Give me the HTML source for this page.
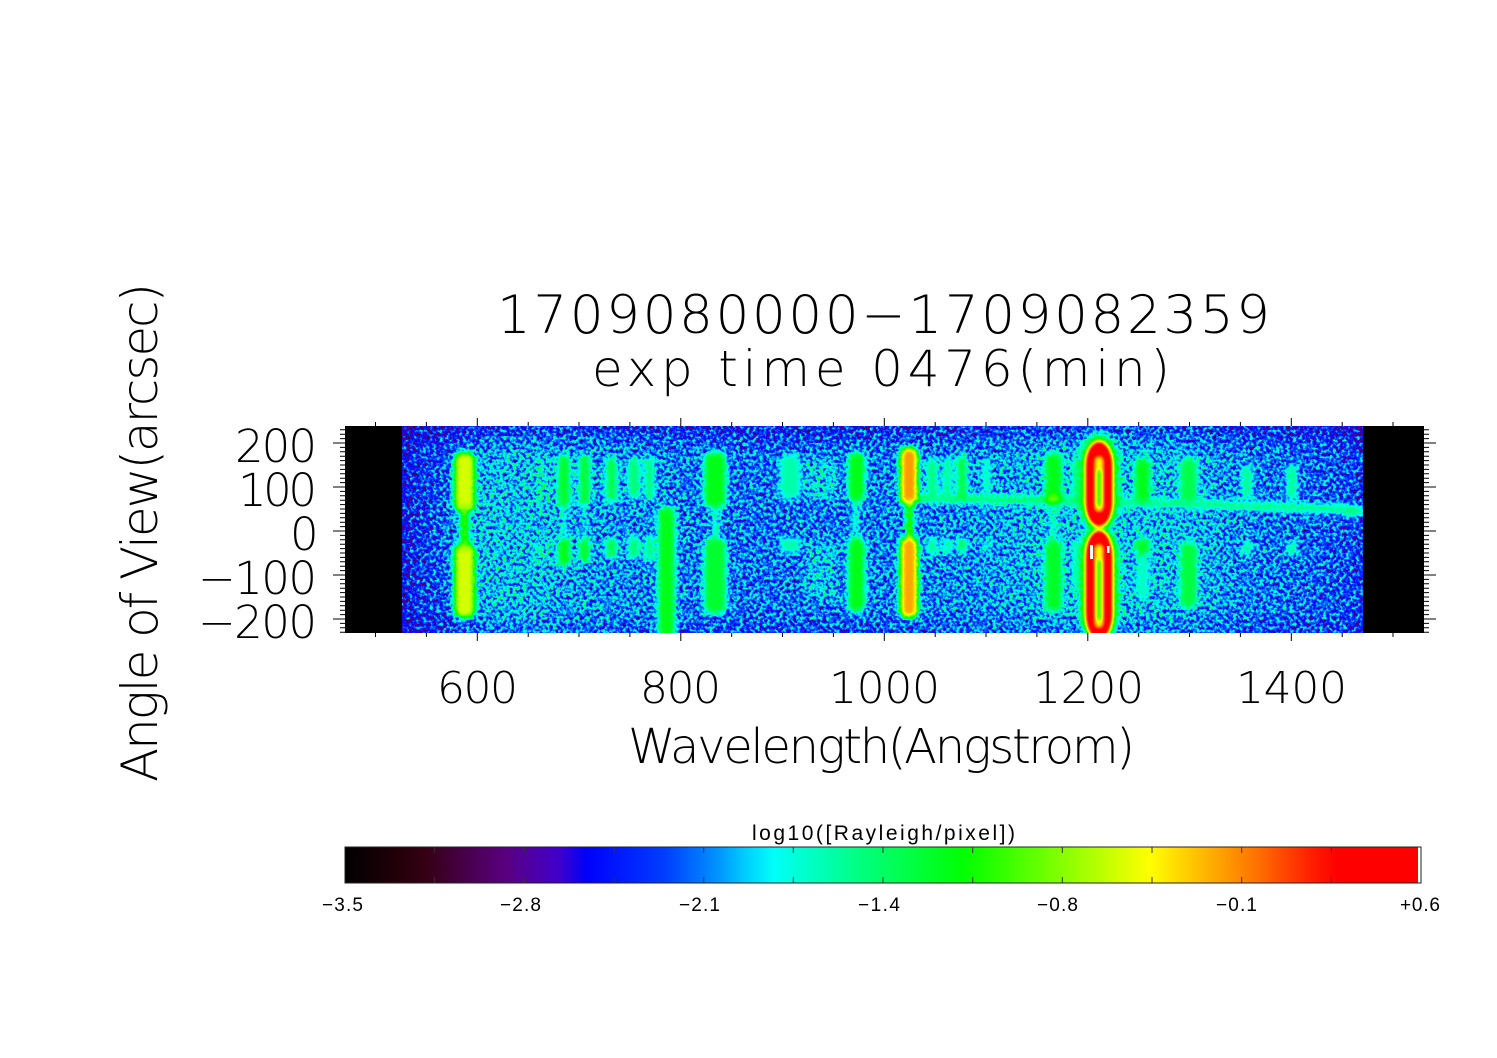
<!DOCTYPE html>
<html><head><meta charset="utf-8"><style>html,body{margin:0;padding:0;background:#fff;}svg{display:block}</style></head>
<body>
<svg width="1497" height="1058" viewBox="0 0 1497 1058" xmlns="http://www.w3.org/2000/svg">
<defs>
 <linearGradient id="bgx" gradientUnits="userSpaceOnUse" x1="402" y1="0" x2="1363" y2="0">
  <stop offset="0" stop-color="#3d3d3d"/>
  <stop offset="0.019" stop-color="#474747"/>
  <stop offset="0.05" stop-color="#4d4d4d"/>
  <stop offset="0.081" stop-color="#545454"/>
  <stop offset="0.123" stop-color="#5a5a5a"/>
  <stop offset="0.206" stop-color="#585858"/>
  <stop offset="0.289" stop-color="#545454"/>
  <stop offset="0.373" stop-color="#525252"/>
  <stop offset="0.456" stop-color="#535353"/>
  <stop offset="0.549" stop-color="#555555"/>
  <stop offset="0.622" stop-color="#585858"/>
  <stop offset="0.695" stop-color="#5b5b5b"/>
  <stop offset="0.758" stop-color="#5b5b5b"/>
  <stop offset="0.83" stop-color="#585858"/>
  <stop offset="0.914" stop-color="#525252"/>
  <stop offset="0.976" stop-color="#4d4d4d"/>
  <stop offset="1" stop-color="#474747"/>
 </linearGradient>
 <linearGradient id="vy" gradientUnits="userSpaceOnUse" x1="0" y1="426" x2="0" y2="633">
  <stop offset="0" stop-color="#000" stop-opacity="0.22"/>
  <stop offset="0.08" stop-color="#000" stop-opacity="0.07"/>
  <stop offset="0.15" stop-color="#000" stop-opacity="0"/>
  <stop offset="0.88" stop-color="#000" stop-opacity="0"/>
  <stop offset="1" stop-color="#000" stop-opacity="0.1"/>
 </linearGradient>
 <linearGradient id="cbar" x1="0" y1="0" x2="1" y2="0">
  <stop offset="0" stop-color="#000000"/>
  <stop offset="0.025" stop-color="#120005"/>
  <stop offset="0.05" stop-color="#240009"/>
  <stop offset="0.075" stop-color="#350014"/>
  <stop offset="0.1" stop-color="#410038"/>
  <stop offset="0.125" stop-color="#4d005c"/>
  <stop offset="0.15" stop-color="#590080"/>
  <stop offset="0.175" stop-color="#4d00a6"/>
  <stop offset="0.2" stop-color="#4000cc"/>
  <stop offset="0.225" stop-color="#0000fa"/>
  <stop offset="0.25" stop-color="#0015ff"/>
  <stop offset="0.275" stop-color="#002aff"/>
  <stop offset="0.3" stop-color="#0040ff"/>
  <stop offset="0.325" stop-color="#006cff"/>
  <stop offset="0.35" stop-color="#0099ff"/>
  <stop offset="0.375" stop-color="#00d1ff"/>
  <stop offset="0.4" stop-color="#00fff7"/>
  <stop offset="0.425" stop-color="#00ffd1"/>
  <stop offset="0.45" stop-color="#00ffad"/>
  <stop offset="0.475" stop-color="#00ff87"/>
  <stop offset="0.5" stop-color="#00ff66"/>
  <stop offset="0.525" stop-color="#00ff45"/>
  <stop offset="0.55" stop-color="#00ff24"/>
  <stop offset="0.575" stop-color="#00ff03"/>
  <stop offset="0.6" stop-color="#22ff00"/>
  <stop offset="0.625" stop-color="#47ff00"/>
  <stop offset="0.65" stop-color="#6bff00"/>
  <stop offset="0.675" stop-color="#90ff00"/>
  <stop offset="0.7" stop-color="#b5ff00"/>
  <stop offset="0.725" stop-color="#daff00"/>
  <stop offset="0.75" stop-color="#ffff00"/>
  <stop offset="0.775" stop-color="#ffdb00"/>
  <stop offset="0.8" stop-color="#ffb800"/>
  <stop offset="0.825" stop-color="#ff9400"/>
  <stop offset="0.85" stop-color="#ff7000"/>
  <stop offset="0.875" stop-color="#ff4700"/>
  <stop offset="0.9" stop-color="#ff2000"/>
  <stop offset="0.925" stop-color="#ff0000"/>
  <stop offset="1" stop-color="#ff0000"/>
 </linearGradient>
 <filter id="nz" filterUnits="userSpaceOnUse" x="402" y="426" width="961" height="207" color-interpolation-filters="sRGB">
  <feTurbulence type="fractalNoise" baseFrequency="0.3" numOctaves="2" seed="7" result="t"/>
  <feColorMatrix in="t" type="matrix" values="1 0 0 0 0  1 0 0 0 0  1 0 0 0 0  0 0 0 0 1" result="g"/>
  <feComposite in="SourceGraphic" in2="g" operator="arithmetic" k1="0" k2="1" k3="0.6" k4="-0.3"/>
 </filter>
 <filter id="cm" filterUnits="userSpaceOnUse" x="402" y="426" width="961" height="207" color-interpolation-filters="sRGB">
  <feComponentTransfer>
   <feFuncR type="table" tableValues="0 .071 .143 .209 .256 .303 .35 .30 .25 0 0 0 0 0 0 0 0 0 0 0 0 0 0 0 .133 .277 .42 .566 .71 .855 1 1 1 1 1 1 1 1 1 1 1"/>
   <feFuncG type="table" tableValues="0 0 0 0 0 0 0 0 0 0 .081 .166 .25 .425 .6 .82 1 1 1 1 1 1 1 1 1 1 1 1 1 1 1 .86 .72 .58 .44 .28 .125 0 0 0 0"/>
   <feFuncB type="table" tableValues="0 .018 .036 .078 .219 .359 .5 .65 .8 .98 1 1 1 1 1 1 .97 .82 .68 .53 .4 .27 .14 .01 0 0 0 0 0 0 0 0 0 0 0 0 0 0 0 0 0"/>
  </feComponentTransfer>
 </filter>
 <filter id="b15" filterUnits="userSpaceOnUse" x="0" y="0" width="1497" height="1058"><feGaussianBlur stdDeviation="15"/></filter>
 <filter id="b25" filterUnits="userSpaceOnUse" x="0" y="0" width="1497" height="1058"><feGaussianBlur stdDeviation="25"/></filter>
 <filter id="b4" filterUnits="userSpaceOnUse" x="0" y="0" width="1497" height="1058"><feGaussianBlur stdDeviation="4"/></filter>
 <filter id="b3" filterUnits="userSpaceOnUse" x="0" y="0" width="1497" height="1058"><feGaussianBlur stdDeviation="3"/></filter>
 <filter id="b2" filterUnits="userSpaceOnUse" x="0" y="0" width="1497" height="1058"><feGaussianBlur stdDeviation="2"/></filter>
 <filter id="b15s" filterUnits="userSpaceOnUse" x="0" y="0" width="1497" height="1058"><feGaussianBlur stdDeviation="1.5"/></filter>
 <clipPath id="dc"><rect x="402" y="426" width="961" height="207"/></clipPath>
</defs>

<rect width="1497" height="1058" fill="#fff"/>

<rect x="345" y="426" width="1079" height="207" fill="#000"/>

<g clip-path="url(#dc)">
<g filter="url(#cm)">
 <g filter="url(#nz)">
  <rect x="402" y="426" width="961" height="207" fill="url(#bgx)"/>
  <g filter="url(#b15)"><ellipse cx="510" cy="535" rx="55" ry="95" fill="#5e5e5e"/></g>
  <g filter="url(#b25)"><ellipse cx="1115" cy="531" rx="100" ry="120" fill="#5f5f5f"/></g>
  <g filter="url(#b4)">
   <rect x="805" y="458" width="32" height="42" rx="6" fill="#646464"/>
   <rect x="805" y="540" width="32" height="60" rx="6" fill="#616161"/>
   <rect x="537" y="458" width="10" height="47" rx="4" fill="#717171"/>
   <rect x="537" y="542" width="10" height="20" rx="4" fill="#717171"/>
  </g>
  <rect x="402" y="426" width="961" height="207" fill="url(#vy)"/>
 </g>
 <!-- horizontal band -->
 <g filter="url(#b3)">
  <polygon points="918,494 1080,497 1080,505 918,502" fill="#808080"/>
  <polygon points="1080,497 1200,500 1350,505 1363,507 1363,515 1350,514 1200,508 1080,505" fill="#7a7a7a"/>
  <ellipse cx="1352" cy="511" rx="9" ry="6" fill="#7d7d7d"/>
 </g>
 <!-- emission lines -->
 <g filter="url(#b3)">
  <rect x="454" y="452" width="21" height="60" rx="8" fill="#b8b8b8"/>
  <rect x="454" y="543" width="21" height="75" rx="8" fill="#b8b8b8"/>
  <rect x="461" y="505" width="7" height="45" fill="#a8a8a8"/>

  <rect x="558" y="455" width="12" height="53" rx="5" fill="#8c8c8c"/>
  <rect x="558" y="538" width="12" height="28" rx="5" fill="#919191"/>
  <rect x="562" y="505" width="4" height="35" fill="#707070"/>

  <rect x="579" y="455" width="11" height="50" rx="5" fill="#8a8a8a"/>
  <rect x="579" y="538" width="11" height="24" rx="5" fill="#8c8c8c"/>
  <rect x="583" y="505" width="3" height="35" fill="#707070"/>

  <rect x="606" y="457" width="11" height="45" rx="5" fill="#858585"/>
  <rect x="606" y="538" width="11" height="20" rx="5" fill="#858585"/>

  <rect x="628" y="458" width="12" height="40" rx="5" fill="#7d7d7d"/>
  <rect x="628" y="537" width="12" height="21" rx="5" fill="#7d7d7d"/>

  <rect x="645" y="457" width="9" height="43" rx="4" fill="#7d7d7d"/>
  <rect x="645" y="537" width="9" height="23" rx="4" fill="#7d7d7d"/>

  <rect x="658" y="506" width="17" height="135" rx="8" fill="#8f8f8f"/>

  <rect x="704" y="452" width="22" height="56" rx="8" fill="#8f8f8f"/>
  <rect x="713" y="505" width="5" height="36" fill="#7d7d7d"/>
  <rect x="704" y="538" width="22" height="76" rx="8" fill="#8a8a8a"/>

  <rect x="780" y="455" width="20" height="43" rx="6" fill="#737373"/>
  <rect x="780" y="538" width="20" height="14" rx="5" fill="#737373"/>

  <rect x="848" y="452" width="17" height="50" rx="7" fill="#8f8f8f"/>
  <rect x="854" y="500" width="4" height="40" fill="#7d7d7d"/>
  <rect x="848" y="538" width="17" height="74" rx="7" fill="#8f8f8f"/>

  <rect x="900" y="447" width="18" height="58" rx="8" fill="#d1d1d1"/>
  <rect x="907" y="500" width="5" height="40" fill="#bdbdbd"/>
  <rect x="900" y="537" width="18" height="81" rx="8" fill="#cfcfcf"/>

  <rect x="927" y="458" width="10" height="40" rx="4" fill="#7d7d7d"/>
  <rect x="927" y="538" width="10" height="17" rx="4" fill="#787878"/>
  <rect x="943" y="458" width="9" height="40" rx="4" fill="#787878"/>
  <rect x="943" y="538" width="9" height="17" rx="4" fill="#737373"/>
  <rect x="957" y="455" width="10" height="45" rx="4" fill="#878787"/>
  <rect x="957" y="538" width="10" height="14" rx="4" fill="#828282"/>
  <rect x="983" y="458" width="7" height="37" rx="3" fill="#737373"/>
  <rect x="983" y="540" width="7" height="12" rx="3" fill="#6e6e6e"/>

  <rect x="1045" y="453" width="17" height="49" rx="7" fill="#8f8f8f"/>
  <rect x="1051" y="500" width="4" height="40" fill="#7d7d7d"/>
  <rect x="1045" y="540" width="17" height="72" rx="7" fill="#8c8c8c"/>
  <ellipse cx="1053" cy="499" rx="8" ry="5" fill="#a6a6a6"/>

  <rect x="1073" y="458" width="7" height="44" rx="3" fill="#7d7d7d"/>
  <rect x="1073" y="540" width="7" height="50" rx="3" fill="#707070"/>

  <rect x="1135" y="458" width="15" height="44" rx="6" fill="#8f8f8f"/>
  <rect x="1135" y="538" width="15" height="17" rx="6" fill="#8c8c8c"/>
  <rect x="1137" y="555" width="11" height="45" rx="5" fill="#707070"/>

  <rect x="1180" y="458" width="17" height="44" rx="7" fill="#858585"/>
  <rect x="1180" y="542" width="17" height="66" rx="7" fill="#878787"/>

  <rect x="1242" y="465" width="10" height="33" rx="4" fill="#787878"/>
  <rect x="1242" y="542" width="10" height="13" rx="4" fill="#787878"/>
  <rect x="1287" y="465" width="10" height="35" rx="4" fill="#787878"/>
  <rect x="1287" y="542" width="10" height="13" rx="4" fill="#787878"/>
 </g>
 <!-- Lyman alpha -->
 <g filter="url(#b4)">
  <rect x="1080" y="434" width="38" height="96" rx="19" ry="30" fill="#999999"/>
  <rect x="1080" y="526" width="38" height="116" rx="19" ry="32" fill="#999999"/>
 </g>
 <g filter="url(#b2)">
  <rect x="1085" y="441" width="28" height="86" rx="14" ry="24" fill="#f2f2f2"/>
  <rect x="1085" y="530" width="28" height="110" rx="14" ry="26" fill="#f2f2f2"/>
 </g>
 <g filter="url(#b2)">
  <rect x="1094.5" y="456" width="9" height="56" rx="4.5" fill="#bfbfbf"/>
  <rect x="1094.5" y="544" width="9" height="84" rx="4.5" fill="#bfbfbf"/>
 </g>
 <g filter="url(#b15s)">
  <rect x="1097" y="470" width="4" height="36" rx="2" fill="#999999"/>
  <rect x="1097" y="560" width="4" height="60" rx="2" fill="#999999"/>
 </g>
</g>
</g>
<rect x="1090" y="545" width="3" height="14" fill="#fff"/>
<rect x="1107" y="546" width="2.5" height="7" fill="#fff"/>

<g stroke="#000" stroke-width="1" fill="none">
 <path d="M375.5 426V422M426.4 426V422M477.3 426V418M528.2 426V422M579 426V422M629.9 426V422M680.8 426V418M731.7 426V422M782.5 426V422M833.4 426V422M884.3 426V418M935.2 426V422M986 426V422M1036.9 426V422M1087.8 426V418M1138.7 426V422M1189.5 426V422M1240.4 426V422M1291.3 426V418M1342.2 426V422M1393 426V422"/>
 <path d="M375.5 633V637M426.4 633V637M477.3 633V641M528.2 633V637M579 633V637M629.9 633V637M680.8 633V641M731.7 633V637M782.5 633V637M833.4 633V637M884.3 633V641M935.2 633V637M986 633V637M1036.9 633V637M1087.8 633V641M1138.7 633V637M1189.5 633V637M1240.4 633V637M1291.3 633V641M1342.2 633V637M1393 633V637"/>
 <path d="M340 429.8H345M340 434.2H345M340 438.6H345M333 443H345M340 447.4H345M340 451.8H345M340 456.2H345M340 460.6H345M340 465H345M340 469.4H345M340 473.8H345M340 478.2H345M340 482.6H345M333 487H345M340 491.4H345M340 495.8H345M340 500.2H345M340 504.6H345M340 509H345M340 513.4H345M340 517.8H345M340 522.2H345M340 526.6H345M333 531H345M340 535.4H345M340 539.8H345M340 544.2H345M340 548.6H345M340 553H345M340 557.4H345M340 561.8H345M340 566.2H345M340 570.6H345M333 575H345M340 579.4H345M340 583.8H345M340 588.2H345M340 592.6H345M340 597H345M340 601.4H345M340 605.8H345M340 610.2H345M340 614.6H345M333 619H345M340 623.4H345M340 627.8H345M340 632.2H345"/>
 <path d="M1424 429.8H1429M1424 434.2H1429M1424 438.6H1429M1424 443H1436M1424 447.4H1429M1424 451.8H1429M1424 456.2H1429M1424 460.6H1429M1424 465H1429M1424 469.4H1429M1424 473.8H1429M1424 478.2H1429M1424 482.6H1429M1424 487H1436M1424 491.4H1429M1424 495.8H1429M1424 500.2H1429M1424 504.6H1429M1424 509H1429M1424 513.4H1429M1424 517.8H1429M1424 522.2H1429M1424 526.6H1429M1424 531H1436M1424 535.4H1429M1424 539.8H1429M1424 544.2H1429M1424 548.6H1429M1424 553H1429M1424 557.4H1429M1424 561.8H1429M1424 566.2H1429M1424 570.6H1429M1424 575H1436M1424 579.4H1429M1424 583.8H1429M1424 588.2H1429M1424 592.6H1429M1424 597H1429M1424 601.4H1429M1424 605.8H1429M1424 610.2H1429M1424 614.6H1429M1424 619H1436M1424 623.4H1429M1424 627.8H1429M1424 632.2H1429"/>
</g>

<g font-family="'DejaVu Sans Light', 'Liberation Sans', sans-serif" font-weight="200" fill="#000">
 <text x="497" y="333" font-size="53" textLength="773" lengthAdjust="spacing">1709080000−1709082359</text>
 <text x="592" y="386" font-size="50" textLength="578" lengthAdjust="spacing">exp time 0476(min)</text>

 <text x="235" y="462" font-size="45" textLength="82" lengthAdjust="spacing">200</text>
 <text x="238" y="506" font-size="45" textLength="79" lengthAdjust="spacing">100</text>
 <text x="290" y="550" font-size="45">0</text>
 <text x="198" y="594" font-size="45" textLength="119" lengthAdjust="spacing">−100</text>
 <text x="198" y="638" font-size="45" textLength="119" lengthAdjust="spacing">−200</text>

 <text x="437" y="703" font-size="44" textLength="81" lengthAdjust="spacing">600</text>
 <text x="640" y="703" font-size="44" textLength="81" lengthAdjust="spacing">800</text>
 <text x="829" y="703" font-size="44" textLength="111" lengthAdjust="spacing">1000</text>
 <text x="1033" y="703" font-size="44" textLength="111" lengthAdjust="spacing">1200</text>
 <text x="1236" y="703" font-size="44" textLength="111" lengthAdjust="spacing">1400</text>

 <text x="628" y="763" font-size="48" textLength="507" lengthAdjust="spacing">Wavelength(Angstrom)</text>
 <text transform="translate(157,782) rotate(-90)" x="0" y="0" font-size="50" textLength="499" lengthAdjust="spacing">Angle of View(arcsec)</text>
</g>

<g font-family="'Liberation Sans', sans-serif" fill="#000">
 <text x="752" y="840" font-size="21" textLength="263" lengthAdjust="spacing">log10([Rayleigh/pixel])</text>
 <text x="322" y="911" font-size="19" textLength="41" lengthAdjust="spacing">−3.5</text>
 <text x="500" y="911" font-size="19" textLength="41" lengthAdjust="spacing">−2.8</text>
 <text x="679" y="911" font-size="19" textLength="41" lengthAdjust="spacing">−2.1</text>
 <text x="858" y="911" font-size="19" textLength="42" lengthAdjust="spacing">−1.4</text>
 <text x="1037" y="911" font-size="19" textLength="41" lengthAdjust="spacing">−0.8</text>
 <text x="1216" y="911" font-size="19" textLength="41" lengthAdjust="spacing">−0.1</text>
 <text x="1400" y="911" font-size="19" textLength="40" lengthAdjust="spacing">+0.6</text>
</g>

<rect x="345" y="847" width="1073" height="36" fill="url(#cbar)"/>
<rect x="1418" y="847" width="3" height="36" fill="#fff"/>
<rect x="345" y="847" width="1076" height="36" fill="none" stroke="#222" stroke-width="1"/>
<path d="M434.7 847V853M524.3 847V853M614 847V853M703.7 847V853M793.3 847V853M883 847V853M972.7 847V853M1062.3 847V853M1152 847V853M1241.7 847V853M1331.3 847V853M434.7 883V877M524.3 883V877M614 883V877M703.7 883V877M793.3 883V877M883 883V877M972.7 883V877M1062.3 883V877M1152 883V877M1241.7 883V877M1331.3 883V877" stroke="#333" stroke-width="1" fill="none"/>
</svg>
</body></html>
